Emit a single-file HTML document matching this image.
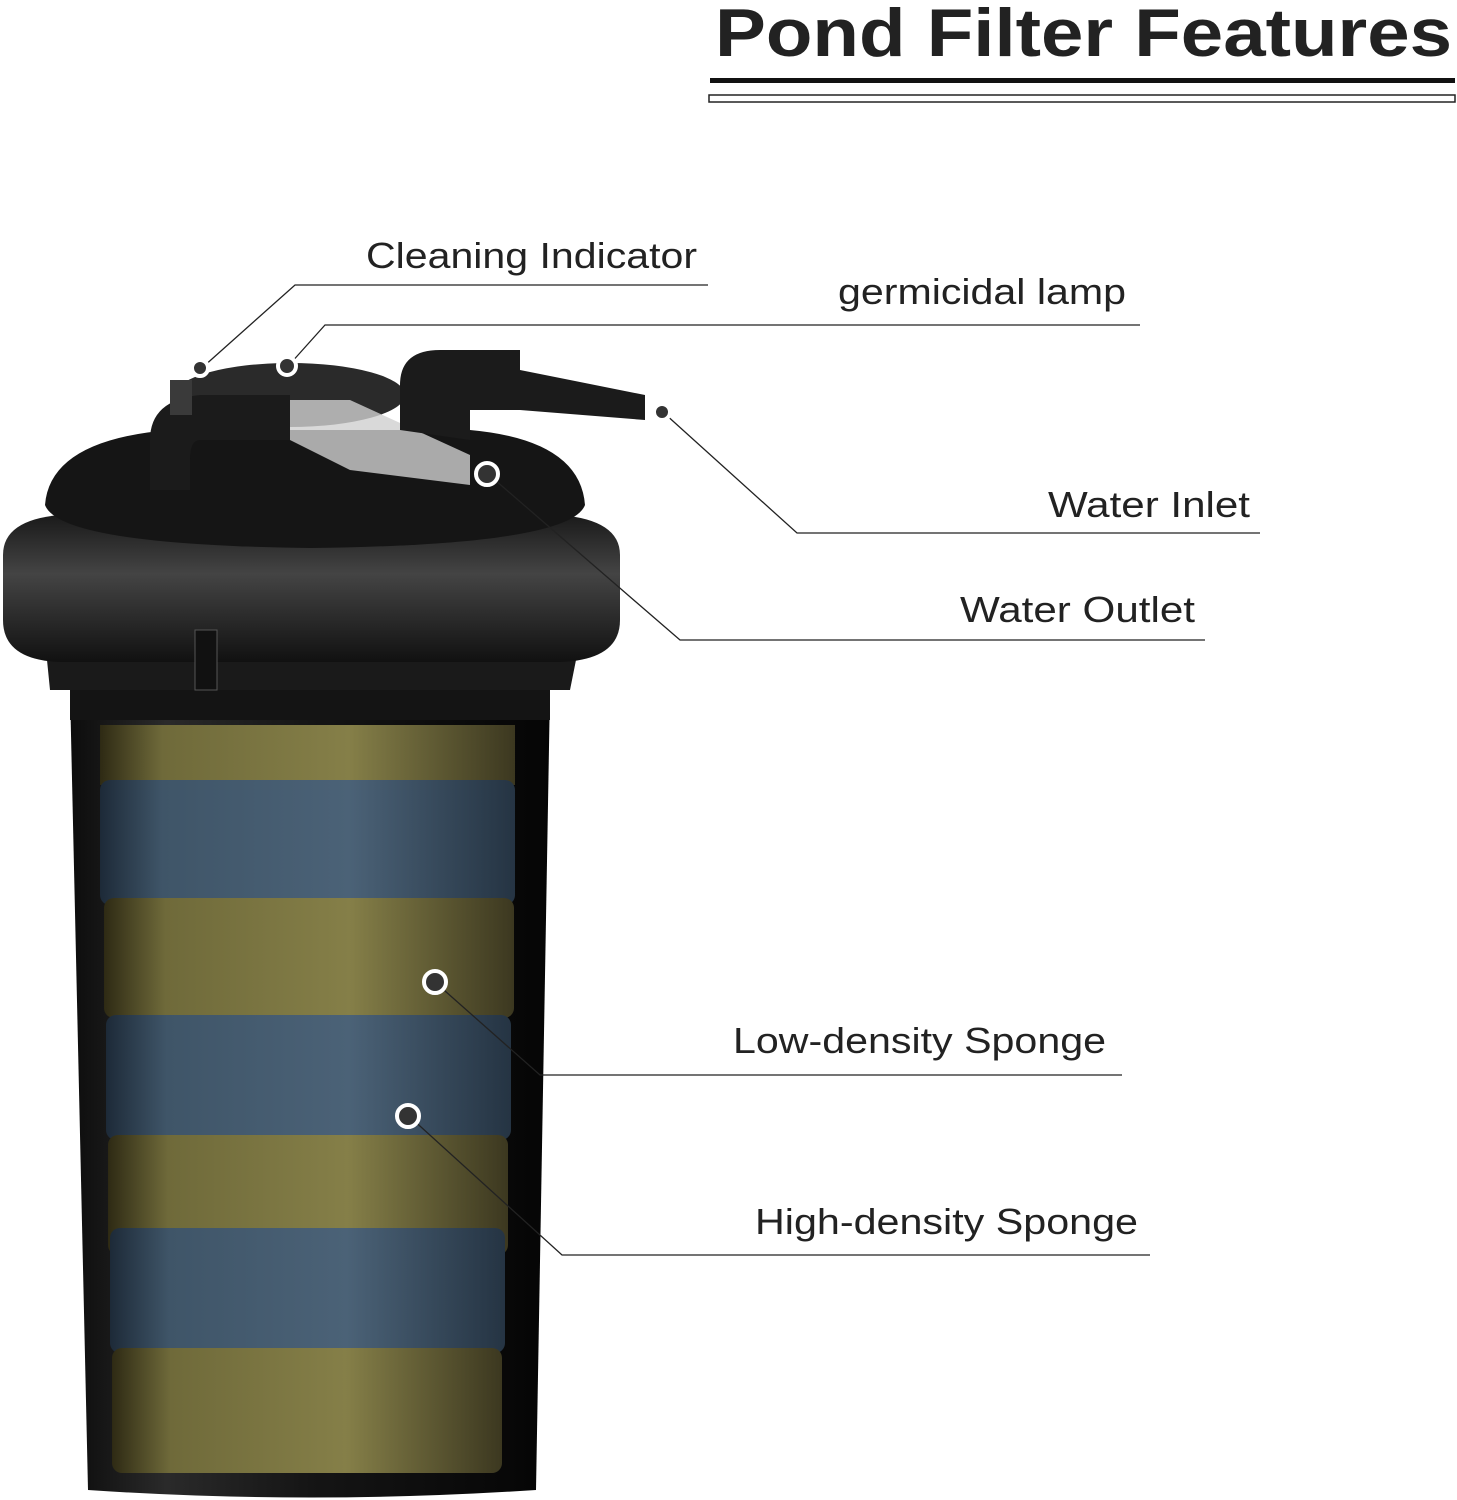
<!DOCTYPE html>
<html><head><meta charset="utf-8"><style>
html,body{margin:0;padding:0;background:#fff;width:1457px;height:1500px;overflow:hidden}
svg{display:block}
text{font-family:"Liberation Sans",sans-serif;fill:#222}
</style></head><body>
<svg width="1457" height="1500" viewBox="0 0 1457 1500">
<defs>
<linearGradient id="body" x1="0" x2="1">
<stop offset="0" stop-color="#0c0c0c"/><stop offset="0.2" stop-color="#2a2a2a"/><stop offset="0.5" stop-color="#151515"/><stop offset="1" stop-color="#050505"/>
</linearGradient>
<linearGradient id="yel" x1="0" x2="1">
<stop offset="0" stop-color="#2e2a14"/><stop offset="0.15" stop-color="#6f6a3a"/><stop offset="0.6" stop-color="#857f48"/><stop offset="1" stop-color="#3c3820"/>
</linearGradient>
<linearGradient id="blu" x1="0" x2="1">
<stop offset="0" stop-color="#1d2a38"/><stop offset="0.15" stop-color="#3f5568"/><stop offset="0.6" stop-color="#4b6277"/><stop offset="1" stop-color="#253443"/>
</linearGradient>
<linearGradient id="ring" x1="0" y1="0" x2="0" y2="1">
<stop offset="0" stop-color="#1a1a1a"/><stop offset="0.4" stop-color="#444"/><stop offset="1" stop-color="#111"/>
</linearGradient>
</defs>
<text x="715" y="56" font-size="68" font-weight="bold" fill="#111" textLength="737" lengthAdjust="spacingAndGlyphs">Pond Filter Features</text>
<rect x="710" y="78" width="745" height="5" fill="#111"/>
<rect x="709" y="95" width="746" height="7" fill="none" stroke="#222" stroke-width="1.5"/>

<path d="M70 690 L550 690 L536 1490 Q310 1505 88 1490 Z" fill="url(#body)"/>
<g>
<rect x="100" y="725" width="415" height="60" fill="url(#yel)"/>
<rect x="100" y="780" width="415" height="125" rx="10" fill="url(#blu)"/>
<rect x="104" y="898" width="410" height="120" rx="10" fill="url(#yel)"/>
<rect x="106" y="1015" width="405" height="125" rx="10" fill="url(#blu)"/>
<rect x="108" y="1135" width="400" height="120" rx="10" fill="url(#yel)"/>
<rect x="110" y="1228" width="395" height="125" rx="10" fill="url(#blu)"/>
<rect x="112" y="1348" width="390" height="125" rx="10" fill="url(#yel)"/>
</g>
<rect x="70" y="660" width="480" height="60" fill="#141414"/>
<path d="M45 640 L580 640 L570 690 L50 690 Z" fill="#1a1a1a"/>
<path d="M3 555 Q3 520 60 515 L560 515 Q620 520 620 555 L620 620 Q620 660 560 662 L60 662 Q3 660 3 620 Z" fill="url(#ring)"/>
<rect x="195" y="630" width="22" height="60" fill="#111" stroke="#555"/>
<path d="M45 505 Q50 440 170 430 L470 430 Q580 440 585 505 Q570 545 310 548 Q60 545 45 505 Z" fill="#151515"/>
<ellipse cx="290" cy="395" rx="115" ry="32" fill="#2a2a2a"/>
<path d="M150 490 L150 440 Q150 400 200 395 L290 395 L290 440 L200 440 Q190 440 190 460 L190 490 Z" fill="#1b1b1b"/>
<path d="M290 400 L350 400 L470 455 L470 485 L350 470 L290 440 Z" fill="#cfcfcf" opacity="0.8"/>
<path d="M400 430 L400 385 Q400 350 440 350 L520 350 L520 370 L645 395 L645 420 L520 410 L470 410 L470 440 Z" fill="#1b1b1b"/>
<rect x="170" y="380" width="22" height="35" fill="#3a3a3a"/>

<g fill="none" stroke="#222" stroke-width="1.3">
<polyline points="708,285 295,285 203,367"/>
<polyline points="1140,325 325,325 290,364"/>
<polyline points="1260,533 797,533 664,413"/>
<polyline points="1205,640 680,640 488,474"/>
<polyline points="1122,1075 540,1075 436,983"/>
<polyline points="1150,1255 562,1255 410,1117"/>
</g>
<g fill="#333" stroke="#fff" stroke-width="4">
<circle cx="200" cy="368" r="8"/>
<circle cx="287" cy="366" r="9"/>
<circle cx="662" cy="412" r="8"/>
<circle cx="487" cy="474" r="11"/>
<circle cx="435" cy="982" r="11"/>
<circle cx="408" cy="1116" r="11"/>
</g>
<g font-size="36">
<text x="366" y="268" textLength="331" lengthAdjust="spacingAndGlyphs">Cleaning Indicator</text>
<text x="838" y="304" textLength="288" lengthAdjust="spacingAndGlyphs">germicidal lamp</text>
<text x="1048" y="517" textLength="202" lengthAdjust="spacingAndGlyphs">Water Inlet</text>
<text x="960" y="622" textLength="235" lengthAdjust="spacingAndGlyphs">Water Outlet</text>
<text x="733" y="1053" textLength="373" lengthAdjust="spacingAndGlyphs">Low-density Sponge</text>
<text x="755" y="1234" textLength="383" lengthAdjust="spacingAndGlyphs">High-density Sponge</text>
</g>
</svg>
</body></html>
